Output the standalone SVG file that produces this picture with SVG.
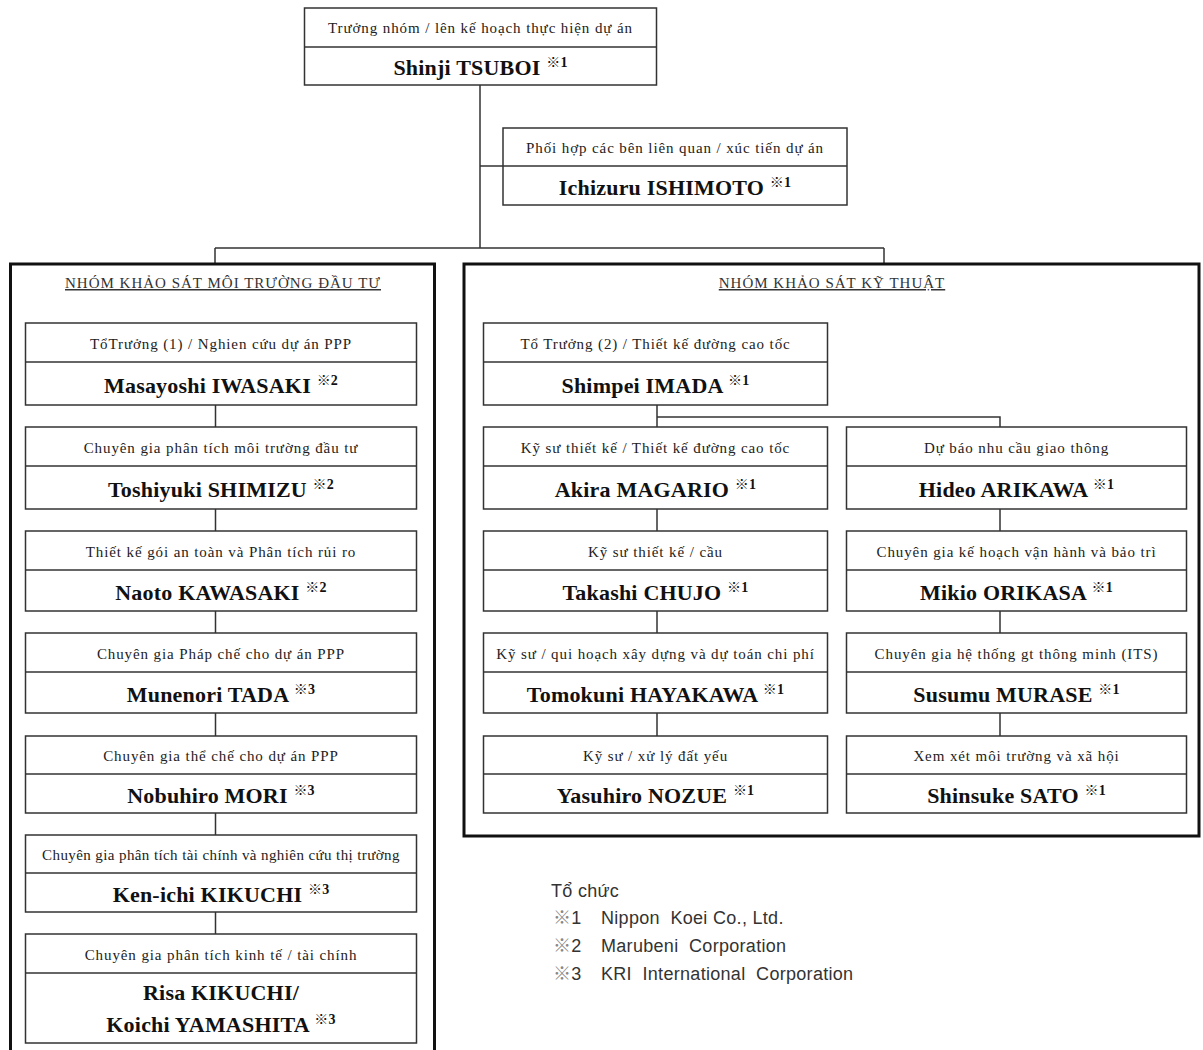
<svg xmlns="http://www.w3.org/2000/svg" width="1203" height="1050" viewBox="0 0 1203 1050">
  <style>
    .box { fill: #fff; stroke: #333; stroke-width: 1.5; }
    .div { stroke: #333; stroke-width: 1.5; }
    .grp { fill: none; stroke: #111; stroke-width: 3; }
    .con { stroke: #333; stroke-width: 1.5; fill: none; }
    .role { font-family: "Liberation Serif", "Noto Sans CJK JP", serif; font-size: 15px; letter-spacing: 0.9px; fill: #222; text-anchor: middle; }
    .nm { font-family: "Liberation Serif", "Noto Sans CJK JP", serif; font-size: 22px; font-weight: bold; letter-spacing: 0.2px; fill: #111; text-anchor: middle; }
    .sup { font-size: 14px; font-weight: bold; }
    .hdr { font-family: "Liberation Serif", "Noto Sans CJK JP", serif; font-size: 15px; letter-spacing: 1px; fill: #333; text-anchor: middle; text-decoration: underline; }
    .lg { font-family: "Liberation Sans", "Noto Sans CJK JP", sans-serif; font-size: 18px; letter-spacing: 0.3px; fill: #333; }
    .mk { fill: #888; }
  </style>
  <rect width="1203" height="1050" fill="#fff"/>

  <!-- connectors -->
  <g id="connectors">
    <path class="con" d="M480,85 V248 M480,166 H503 M215,248 H884 M215,248 V264 M884,248 V264"/>
    <path class="con" d="M215.5,405 V427 M215.5,509 V531 M215.5,611 V633 M215.5,713 V736 M215.5,813 V835 M215.5,912 V934"/>
    <path class="con" d="M657,405 V427 M657,417 H1000 V427 M657,509 V531 M657,611 V633 M657,713 V736 M1000,509 V531 M1000,611 V633 M1000,713 V736"/>
  </g>

  <!-- team groups -->
  <g id="group-investment">
    <rect class="grp" x="10.5" y="264" width="424" height="800"/>
    <text class="hdr" x="223" y="288">NHÓM KHẢO SÁT MÔI TRƯỜNG ĐẦU TƯ</text>
  </g>
  <g id="group-technical">
    <rect class="grp" x="464" y="264" width="735" height="572"/>
    <text class="hdr" x="832" y="288">NHÓM KHẢO SÁT KỸ THUẬT</text>
  </g>

  <!-- leadership -->
  <g id="node-tsuboi">
    <rect class="box" x="304.5" y="8" width="352" height="77"/>
    <line class="div" x1="304.5" y1="47" x2="656.5" y2="47"/>
    <text class="role" x="480.5" y="33">Trưởng nhóm / lên kế hoạch thực hiện dự án</text>
    <text class="nm" x="480.5" y="75">Shinji TSUBOI <tspan class="sup" dy="-8">※1</tspan></text>
  </g>
  <g id="node-ishimoto">
    <rect class="box" x="503" y="128" width="344" height="77"/>
    <line class="div" x1="503" y1="166" x2="847" y2="166"/>
    <text class="role" x="675" y="153">Phối hợp các bên liên quan / xúc tiến dự án</text>
    <text class="nm" x="675" y="195">Ichizuru ISHIMOTO <tspan class="sup" dy="-8">※1</tspan></text>
  </g>

  <!-- investment environment team -->
  <g id="node-iwasaki">
    <rect class="box" x="25.5" y="323" width="391" height="82"/>
    <line class="div" x1="25.5" y1="362" x2="416.5" y2="362"/>
    <text class="role" x="221" y="348.5">TổTrưởng (1) / Nghien cứu dự án PPP</text>
    <text class="nm" x="221" y="392.5">Masayoshi IWASAKI <tspan class="sup" dy="-8">※2</tspan></text>
  </g>
  <g id="node-shimizu">
    <rect class="box" x="25.5" y="427" width="391" height="82"/>
    <line class="div" x1="25.5" y1="466" x2="416.5" y2="466"/>
    <text class="role" x="221" y="452.5">Chuyên gia phân tích môi trường đầu tư</text>
    <text class="nm" x="221" y="496.5">Toshiyuki SHIMIZU <tspan class="sup" dy="-8">※2</tspan></text>
  </g>
  <g id="node-kawasaki">
    <rect class="box" x="25.5" y="531" width="391" height="80"/>
    <line class="div" x1="25.5" y1="570" x2="416.5" y2="570"/>
    <text class="role" x="221" y="556.5">Thiết kế gói an  toàn và Phân tích rủi ro</text>
    <text class="nm" x="221" y="599.5">Naoto KAWASAKI <tspan class="sup" dy="-8">※2</tspan></text>
  </g>
  <g id="node-tada">
    <rect class="box" x="25.5" y="633" width="391" height="80"/>
    <line class="div" x1="25.5" y1="672" x2="416.5" y2="672"/>
    <text class="role" x="221" y="658.5">Chuyên gia Pháp chế cho dự án PPP</text>
    <text class="nm" x="221" y="701.5">Munenori TADA <tspan class="sup" dy="-8">※3</tspan></text>
  </g>
  <g id="node-mori">
    <rect class="box" x="25.5" y="736" width="391" height="77"/>
    <line class="div" x1="25.5" y1="774" x2="416.5" y2="774"/>
    <text class="role" x="221" y="761">Chuyên gia thể chế cho dự án PPP</text>
    <text class="nm" x="221" y="802.5">Nobuhiro MORI <tspan class="sup" dy="-8">※3</tspan></text>
  </g>
  <g id="node-kikuchi-k">
    <rect class="box" x="25.5" y="835" width="391" height="77"/>
    <line class="div" x1="25.5" y1="873" x2="416.5" y2="873"/>
    <text class="role" x="221" y="860" style="letter-spacing:0.4px">Chuyên gia phân tích tài chính và nghiên cứu thị trường</text>
    <text class="nm" x="221" y="901.5">Ken-ichi KIKUCHI <tspan class="sup" dy="-8">※3</tspan></text>
  </g>
  <g id="node-kikuchi-yamashita">
    <rect class="box" x="25.5" y="934" width="391" height="109"/>
    <line class="div" x1="25.5" y1="973" x2="416.5" y2="973"/>
    <text class="role" x="221" y="959.5">Chuyên gia phân tích kinh tế / tài chính</text>
    <text class="nm" x="221" y="1000">Risa KIKUCHI/</text>
    <text class="nm" x="221" y="1032">Koichi YAMASHITA <tspan class="sup" dy="-8">※3</tspan></text>
  </g>

  <!-- technical team -->
  <g id="node-imada">
    <rect class="box" x="483.5" y="323" width="344" height="82"/>
    <line class="div" x1="483.5" y1="362" x2="827.5" y2="362"/>
    <text class="role" x="655.5" y="348.5">Tổ Trưởng (2) / Thiết kế đường cao tốc</text>
    <text class="nm" x="655.5" y="392.5">Shimpei IMADA <tspan class="sup" dy="-8">※1</tspan></text>
  </g>
  <g id="node-magario">
    <rect class="box" x="483.5" y="427" width="344" height="82"/>
    <line class="div" x1="483.5" y1="466" x2="827.5" y2="466"/>
    <text class="role" x="655.5" y="452.5">Kỹ sư thiết kế / Thiết kế đường cao tốc</text>
    <text class="nm" x="655.5" y="496.5">Akira MAGARIO <tspan class="sup" dy="-8">※1</tspan></text>
  </g>
  <g id="node-chujo">
    <rect class="box" x="483.5" y="531" width="344" height="80"/>
    <line class="div" x1="483.5" y1="570" x2="827.5" y2="570"/>
    <text class="role" x="655.5" y="556.5">Kỹ sư thiết kế / cầu</text>
    <text class="nm" x="655.5" y="599.5">Takashi CHUJO <tspan class="sup" dy="-8">※1</tspan></text>
  </g>
  <g id="node-hayakawa">
    <rect class="box" x="483.5" y="633" width="344" height="80"/>
    <line class="div" x1="483.5" y1="672" x2="827.5" y2="672"/>
    <text class="role" x="655.5" y="658.5">Kỹ sư / qui hoạch xây dựng và dự toán chi phí</text>
    <text class="nm" x="655.5" y="701.5">Tomokuni HAYAKAWA <tspan class="sup" dy="-8">※1</tspan></text>
  </g>
  <g id="node-nozue">
    <rect class="box" x="483.5" y="736" width="344" height="77"/>
    <line class="div" x1="483.5" y1="774" x2="827.5" y2="774"/>
    <text class="role" x="655.5" y="761">Kỹ sư / xử lý đất yếu</text>
    <text class="nm" x="655.5" y="802.5">Yasuhiro NOZUE <tspan class="sup" dy="-8">※1</tspan></text>
  </g>
  <g id="node-arikawa">
    <rect class="box" x="846.5" y="427" width="340" height="82"/>
    <line class="div" x1="846.5" y1="466" x2="1186.5" y2="466"/>
    <text class="role" x="1016.5" y="452.5">Dự báo nhu cầu giao thông</text>
    <text class="nm" x="1016.5" y="496.5">Hideo ARIKAWA <tspan class="sup" dy="-8">※1</tspan></text>
  </g>
  <g id="node-orikasa">
    <rect class="box" x="846.5" y="531" width="340" height="80"/>
    <line class="div" x1="846.5" y1="570" x2="1186.5" y2="570"/>
    <text class="role" x="1016.5" y="556.5">Chuyên gia kế hoạch vận hành và bảo trì</text>
    <text class="nm" x="1016.5" y="599.5">Mikio ORIKASA <tspan class="sup" dy="-8">※1</tspan></text>
  </g>
  <g id="node-murase">
    <rect class="box" x="846.5" y="633" width="340" height="80"/>
    <line class="div" x1="846.5" y1="672" x2="1186.5" y2="672"/>
    <text class="role" x="1016.5" y="658.5">Chuyên gia hệ thống gt thông minh (ITS)</text>
    <text class="nm" x="1016.5" y="701.5">Susumu MURASE <tspan class="sup" dy="-8">※1</tspan></text>
  </g>
  <g id="node-sato">
    <rect class="box" x="846.5" y="736" width="340" height="77"/>
    <line class="div" x1="846.5" y1="774" x2="1186.5" y2="774"/>
    <text class="role" x="1016.5" y="761">Xem xét môi trường và xã hội</text>
    <text class="nm" x="1016.5" y="802.5">Shinsuke SATO <tspan class="sup" dy="-8">※1</tspan></text>
  </g>

  <!-- organisation legend -->
  <g id="legend">
    <text class="lg" x="551" y="897">Tổ chức</text>
    <text class="lg" x="553" y="924"><tspan class="mk">※</tspan>1</text>
    <text class="lg" x="601" y="924" xml:space="preserve">Nippon  Koei Co., Ltd.</text>
    <text class="lg" x="553" y="952"><tspan class="mk">※</tspan>2</text>
    <text class="lg" x="601" y="952" xml:space="preserve">Marubeni  Corporation</text>
    <text class="lg" x="553" y="980"><tspan class="mk">※</tspan>3</text>
    <text class="lg" x="601" y="980" xml:space="preserve">KRI  International  Corporation</text>
  </g>
</svg>
